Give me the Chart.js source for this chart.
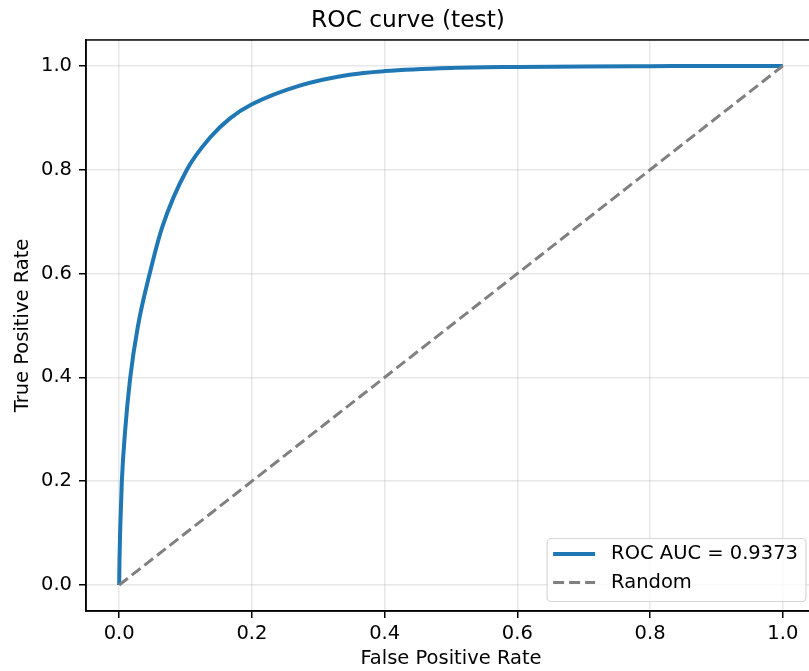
<!DOCTYPE html>
<html>
<head>
<meta charset="utf-8">
<script src="https://cdn.jsdelivr.net/npm/chart.js@4"></script>
<style>
  html, body { margin: 0; padding: 0; background: #fff; overflow: hidden; }
</style>
</head>
<body>
<canvas id="rocChart" width="830" height="671"></canvas>
<script>
// values
const fpr = [0, 0.0005, 0.0015, 0.004, 0.009, 0.0165, 0.028, 0.046, 0.065, 0.102, 0.137, 0.167, 0.2, 0.272, 0.347, 0.4, 0.5, 0.6, 0.7, 0.8, 0.9, 1.0];
const tpr = [0, 0.05, 0.106, 0.2, 0.298, 0.398, 0.497, 0.6, 0.69, 0.8, 0.862, 0.899, 0.926, 0.962, 0.983, 0.990, 0.996, 0.998, 0.999, 0.9995, 1.0, 1.0];
const randomX = [0, 1];
const randomY = [0, 1];
const xTicks = [0, 0.2, 0.4, 0.6, 0.8, 1.0];
const yTicks = [0, 0.2, 0.4, 0.6, 0.8, 1.0];
const aucLabel = 'ROC AUC = 0.9373';

Chart.defaults.font.family = 'DejaVu Sans';
Chart.defaults.color = '#000';

const toPoints = (xs, ys) => xs.map((x, i) => ({ x: x, y: ys[i] }));

// full box round the axes (matplotlib spines)
const spines = {
  id: 'spines',
  afterDatasetsDraw(chart) {
    const { ctx, chartArea: a } = chart;
    ctx.save();
    ctx.strokeStyle = '#000';
    ctx.lineWidth = 1.5;
    ctx.strokeRect(a.left, a.top, a.right - a.left, a.bottom - a.top);
    ctx.restore();
  }
};

// legend drawn inside the plot, lower right
const insideLegend = {
  id: 'insideLegend',
  afterDraw(chart) {
    const { ctx, chartArea: a } = chart;
    const sets = chart.data.datasets;
    ctx.save();
    ctx.font = '19.5px "DejaVu Sans"';
    let textW = 0;
    sets.forEach(ds => { textW = Math.max(textW, ctx.measureText(ds.label).width); });
    const w = 6 + 58 + textW + 8;
    const h = 63;
    const right = a.right - 10;
    const bottom = a.bottom - 9.5;
    const left = right - w;
    const top = bottom - h;

    ctx.beginPath();
    ctx.roundRect(left, top, w, h, 4);
    ctx.fillStyle = 'rgba(255,255,255,0.8)';
    ctx.fill();
    ctx.strokeStyle = '#d6d6d6';
    ctx.lineWidth = 1.2;
    ctx.stroke();

    sets.forEach((ds, i) => {
      const y = top + 15.5 + i * 28.5;
      ctx.beginPath();
      ctx.setLineDash(ds.borderDash || []);
      ctx.strokeStyle = ds.borderColor;
      ctx.lineWidth = ds.borderWidth;
      ctx.moveTo(left + 6, y);
      ctx.lineTo(left + 48, y);
      ctx.stroke();
      ctx.setLineDash([]);
      ctx.fillStyle = '#000';
      ctx.textBaseline = 'middle';
      ctx.textAlign = 'left';
      ctx.fillText(ds.label, left + 64, y);
    });
    ctx.restore();
  }
};

const gridStyle = {
  color: 'rgba(176,176,176,0.3)',
  lineWidth: 1.5,
  tickLength: 7,
  tickColor: '#000',
  tickWidth: 1.5
};

new Chart(document.getElementById('rocChart'), {
  type: 'scatter',
  data: {
    datasets: [
      {
        label: aucLabel,
        data: toPoints(fpr, tpr),
        showLine: true,
        borderColor: '#1f77b4',
        backgroundColor: '#1f77b4',
        borderWidth: 4,
        pointRadius: 0,
        cubicInterpolationMode: 'monotone',
        order: 1
      },
      {
        label: 'Random',
        data: toPoints(randomX, randomY),
        showLine: true,
        borderColor: '#808080',
        backgroundColor: '#808080',
        borderWidth: 3,
        borderDash: [11, 5],
        pointRadius: 0,
        order: 0
      }
    ]
  },
  options: {
    responsive: false,
    animation: false,
    layout: {
      autoPadding: false,
      padding: { top: 0, right: 14, bottom: 0, left: 0 }
    },
    plugins: {
      legend: { display: false },
      tooltip: { enabled: false },
      title: {
        display: true,
        text: 'ROC curve (test)',
        color: '#000',
        font: { size: 23.3, weight: 'normal' },
        padding: { top: 7, bottom: 5 }
      }
    },
    scales: {
      x: {
        type: 'linear',
        min: -0.05,
        max: 1.05,
        afterBuildTicks: scale => { scale.ticks = xTicks.map(v => ({ value: v })); },
        afterFit: scale => { scale.height = 60; },
        ticks: {
          padding: 4,
          font: { size: 19.5 },
          color: '#000',
          callback: v => v.toFixed(1)
        },
        grid: gridStyle,
        border: { display: true, color: '#000', width: 1.5 },
        title: {
          display: true,
          text: 'False Positive Rate',
          color: '#000',
          font: { size: 19.5 },
          padding: { top: 0, bottom: 0 }
        }
      },
      y: {
        type: 'linear',
        min: -0.05,
        max: 1.05,
        afterBuildTicks: scale => { scale.ticks = yTicks.map(v => ({ value: v })); },
        afterFit: scale => { scale.width = 86; },
        ticks: {
          padding: 7,
          font: { size: 19.5 },
          color: '#000',
          callback: v => v.toFixed(1)
        },
        grid: gridStyle,
        border: { display: true, color: '#000', width: 1.5 },
        title: {
          display: true,
          text: 'True Positive Rate',
          color: '#000',
          font: { size: 19.5 },
          padding: { top: 11.6, bottom: 0 }
        }
      }
    }
  },
  plugins: [spines, insideLegend]
});
</script>
</body>
</html>
